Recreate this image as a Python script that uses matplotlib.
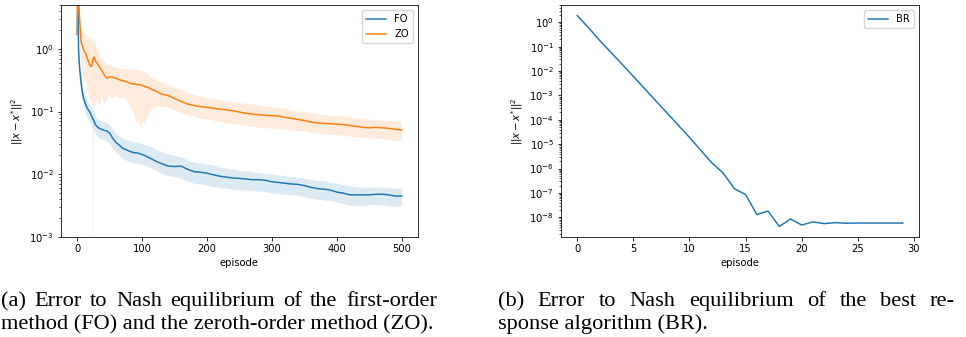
import matplotlib
matplotlib.use("Agg")
import matplotlib.pyplot as plt

# ---------------- data ----------------
episodes = [0, 1, 2, 3, 4, 6, 8, 10, 13, 16,
            19, 22, 24, 25, 26, 28, 31, 34, 38, 42,
            46, 50, 55, 60, 65, 70, 76, 82, 88, 92,
            95, 98, 101, 104, 108, 115, 122, 130, 140, 150,
            160, 170, 180, 190, 200, 210, 220, 230, 240, 250,
            260, 270, 280, 290, 300, 310, 320, 330, 340, 350,
            360, 370, 380, 390, 400, 410, 420, 430, 440, 450,
            460, 470, 480, 490, 500]

fo_mean = [1.7, 8.0, 1.0, 0.6, 0.45, 0.28, 0.2, 0.16, 0.13, 0.11,
           0.1, 0.085, 0.077, 0.074, 0.07, 0.062, 0.057, 0.054, 0.052, 0.05,
           0.049, 0.045, 0.037, 0.032, 0.029, 0.026, 0.0245, 0.023, 0.022, 0.022,
           0.0215, 0.021, 0.0205, 0.02, 0.019, 0.0175, 0.016, 0.0148, 0.0135, 0.0133,
           0.0135, 0.012, 0.011, 0.0108, 0.0104, 0.0098, 0.0093, 0.009, 0.0087, 0.0086,
           0.0084, 0.0082, 0.0082, 0.008, 0.0076, 0.0074, 0.0072, 0.007, 0.0069, 0.0066,
           0.0062, 0.0059, 0.0058, 0.0056, 0.0052, 0.005, 0.0047, 0.0047, 0.0047, 0.0047,
           0.0048, 0.0048, 0.0047, 0.0045, 0.0045]

fo_upper = [1.8, 9.0, 1.3, 0.8, 0.6, 0.38, 0.27, 0.21, 0.17, 0.145,
            0.13, 0.115, 0.105, 0.1, 0.095, 0.085, 0.078, 0.073, 0.07, 0.068,
            0.066, 0.061, 0.052, 0.045, 0.041, 0.037, 0.035, 0.034, 0.033, 0.032,
            0.032, 0.031, 0.031, 0.03, 0.029, 0.027, 0.025, 0.023, 0.021, 0.02,
            0.019, 0.017, 0.0155, 0.015, 0.0145, 0.014, 0.013, 0.0125, 0.012, 0.0115,
            0.0113, 0.011, 0.0106, 0.0104, 0.0102, 0.0098, 0.0095, 0.0092, 0.009, 0.0087,
            0.0083, 0.008, 0.0078, 0.0075, 0.0072, 0.0068, 0.0065, 0.0063, 0.0062, 0.0062,
            0.0063, 0.0063, 0.0062, 0.006, 0.006]

fo_lower = [1.6, 5.0, 0.7, 0.42, 0.32, 0.2, 0.14, 0.11, 0.09, 0.078,
            0.07, 0.06, 0.055, 0.052, 0.05, 0.044, 0.039, 0.037, 0.036, 0.035,
            0.033, 0.031, 0.026, 0.022, 0.02, 0.018, 0.0165, 0.0158, 0.015, 0.015,
            0.0148, 0.0145, 0.0142, 0.014, 0.0135, 0.0125, 0.0113, 0.0105, 0.0095, 0.0092,
            0.0085, 0.0078, 0.0072, 0.007, 0.0067, 0.0064, 0.0062, 0.006, 0.0058, 0.0057,
            0.0056, 0.0055, 0.0054, 0.0053, 0.005, 0.0049, 0.0048, 0.0047, 0.0046, 0.0044,
            0.0042, 0.004, 0.0039, 0.0038, 0.0036, 0.0034, 0.0032, 0.0032, 0.0032, 0.0033,
            0.0033, 0.0033, 0.0032, 0.0031, 0.0031]

zo_mean = [1.7, 20.0, 8.0, 4.0, 2.6, 1.3, 1.1, 0.95, 0.85, 0.68,
           0.56, 0.52, 0.65, 0.72, 0.74, 0.64, 0.58, 0.52, 0.45, 0.38,
           0.34, 0.36, 0.35, 0.34, 0.32, 0.31, 0.3, 0.28, 0.275, 0.27,
           0.27, 0.265, 0.26, 0.25, 0.245, 0.225, 0.21, 0.19, 0.18, 0.162,
           0.145, 0.132, 0.125, 0.12, 0.117, 0.113, 0.109, 0.106, 0.103, 0.098,
           0.094, 0.091, 0.089, 0.087, 0.086, 0.085, 0.081, 0.078, 0.075, 0.072,
           0.068, 0.066, 0.065, 0.064, 0.063, 0.062, 0.06, 0.058, 0.056, 0.055,
           0.056, 0.055, 0.054, 0.052, 0.051]

zo_upper = [1.8, 30.0, 12.0, 6.0, 4.0, 2.5, 2.0, 1.8, 1.7, 1.6,
            1.5, 1.4, 1.3, 1.5, 1.4, 1.2, 1.0, 0.85, 0.72, 0.62,
            0.56, 0.55, 0.52, 0.5, 0.49, 0.48, 0.47, 0.46, 0.47, 0.46,
            0.46, 0.45, 0.44, 0.42, 0.39, 0.35, 0.32, 0.29, 0.26, 0.24,
            0.222, 0.2, 0.185, 0.175, 0.165, 0.16, 0.152, 0.145, 0.14, 0.137,
            0.134, 0.13, 0.125, 0.12, 0.118, 0.115, 0.11, 0.106, 0.1, 0.098,
            0.094, 0.09, 0.088, 0.086, 0.085, 0.083, 0.08, 0.078, 0.076, 0.074,
            0.073, 0.072, 0.071, 0.069, 0.069]

zo_lower = [1.6, 10.0, 4.0, 2.0, 1.2, 0.6, 0.45, 0.35, 0.3, 0.22,
            0.17, 0.15, 0.12, 0.0001, 0.12, 0.14, 0.16, 0.12, 0.17, 0.13,
            0.16, 0.18, 0.16, 0.175, 0.16, 0.17, 0.15, 0.12, 0.09, 0.065,
            0.075, 0.058, 0.07, 0.06, 0.085, 0.11, 0.12, 0.12, 0.115, 0.105,
            0.095, 0.088, 0.083, 0.078, 0.075, 0.072, 0.068, 0.065, 0.063, 0.061,
            0.059, 0.057, 0.055, 0.054, 0.054, 0.053, 0.051, 0.05, 0.049, 0.048,
            0.046, 0.045, 0.044, 0.043, 0.042, 0.041, 0.04, 0.039, 0.038, 0.037,
            0.037, 0.036, 0.035, 0.034, 0.034]

br_episodes = list(range(30))
br_error = [1.9, 0.6, 0.18, 0.058, 0.019, 0.006, 0.0019, 6.0e-4, 1.9e-4, 6.0e-5,
            1.9e-5, 5.6e-6, 1.7e-6, 6.5e-7, 1.5e-7, 8.5e-8, 1.3e-8, 1.8e-8, 4.2e-9, 8.5e-9,
            4.8e-9, 6.5e-9, 5.5e-9, 6.0e-9, 5.7e-9, 5.8e-9, 5.8e-9, 5.8e-9, 5.8e-9, 5.8e-9]

ylabel = r"$||x - x^{*}||^2$"
xlabel = "episode"
caption_a = ["(a) Error to Nash equilibrium of the first-order",
             "method (FO) and the zeroth-order method (ZO)."]
caption_b = ["(b) Error to Nash equilibrium of the best re-",
             "sponse algorithm (BR)."]

# ---------------- style ----------------
W, H = 966, 337
s = 0.72
plt.rcParams.update({
    "font.family": ["DejaVu Sans"],
    "font.size": 10 * s,
    "axes.linewidth": 0.8 * s,
    "xtick.major.size": 3.5 * s, "ytick.major.size": 3.5 * s,
    "xtick.minor.size": 2 * s, "ytick.minor.size": 2 * s,
    "xtick.major.width": 0.8 * s, "ytick.major.width": 0.8 * s,
    "xtick.minor.width": 0.6 * s, "ytick.minor.width": 0.6 * s,
    "xtick.major.pad": 3.5 * s, "ytick.major.pad": 3.5 * s,
    "axes.labelpad": 4 * s,
    "lines.linewidth": 1.5 * s,
    "legend.fontsize": 10 * s,
})

fig = plt.figure(figsize=(W / 100, H / 100), dpi=100)

ax1 = fig.add_axes([61 / W, 1 - 237 / H, 357 / W, 232 / H])
ax1.fill_between(episodes, fo_lower, fo_upper, color="C0", alpha=0.15, lw=0)
ax1.fill_between(episodes, zo_lower, zo_upper, color="C1", alpha=0.15, lw=0)
ax1.plot(episodes, fo_mean, color="C0", label="FO")
ax1.plot(episodes, zo_mean, color="C1", label="ZO")
ax1.set_yscale("log")
ax1.set_ylim(1e-3, 5)
ax1.set_xlabel(xlabel)
ax1.set_ylabel(ylabel)
ax1.legend(loc="upper right")

ax2 = fig.add_axes([561 / W, 1 - 237 / H, 358 / W, 232 / H])
ax2.plot(br_episodes, br_error, color="C0", label="BR")
ax2.set_yscale("log")
ax2.set_xlabel(xlabel)
ax2.set_ylabel(ylabel)
ax2.legend(loc="upper right")

# ---------------- captions ----------------
serif = "Liberation Serif"
renderer = fig.canvas.get_renderer()


def text_width(txt, size):
    t = fig.text(0, 0, txt, family=serif, fontsize=size)
    w = t.get_window_extent(renderer).width
    t.remove()
    return w


cap_size = 1.05 * 10 * 412 / text_width(caption_a[1], 10)


def put_line(txt, x0, baseline, x1=None):
    if x1 is None:
        fig.text(x0 / W, 1 - baseline / H, txt, family=serif,
                 fontsize=cap_size, va="baseline", ha="left")
        return
    words = txt.split(" ")
    widths = [text_width(w, cap_size) for w in words]
    gap = (x1 - x0 - sum(widths)) / (len(words) - 1)
    x = x0
    for w, wd in zip(words, widths):
        fig.text(x / W, 1 - baseline / H, w, family=serif,
                 fontsize=cap_size, va="baseline", ha="left")
        x += wd + gap


put_line(caption_a[0], 1, 306, 437)
put_line(caption_a[1], 1, 329)
put_line(caption_b[0], 498, 306, 955)
put_line(caption_b[1], 498, 329)

fig.savefig("out.png", dpi=100)
